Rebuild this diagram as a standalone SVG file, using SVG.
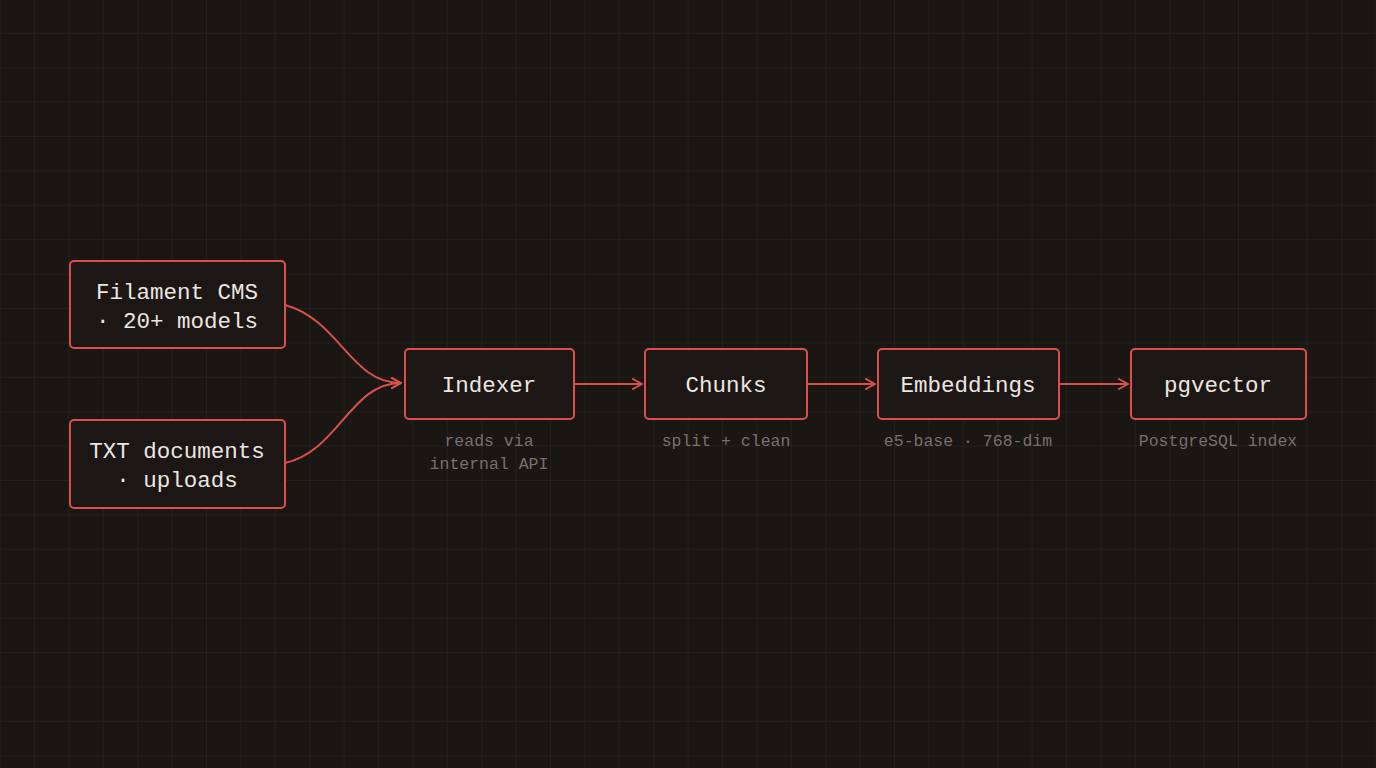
<svg xmlns="http://www.w3.org/2000/svg" width="1376" height="768" viewBox="0 0 1376 768">
<defs>
<pattern id="grid" width="34.4" height="34.4" patternUnits="userSpaceOnUse" x="0.6" y="-0.6">
<path d="M34.4 0V34.4M0 34.4H34.4" fill="none" stroke="#2c2724" stroke-width="1"/>
</pattern>
<marker id="ah" viewBox="0 0 12 12" refX="11" refY="6" markerWidth="12" markerHeight="12" markerUnits="userSpaceOnUse" orient="auto">
<path d="M2 1L11 6L2 11" fill="none" stroke="#d9504a" stroke-width="2" stroke-linecap="round" stroke-linejoin="round"/>
</marker>
<style>
.n{fill:#1c1715;stroke:#d9504a;stroke-width:2}
.t{font-family:"Liberation Mono","DejaVu Sans Mono",monospace;font-size:22.5px;fill:#ece6e0;text-anchor:middle}
.s{font-family:"Liberation Mono","DejaVu Sans Mono",monospace;font-size:16.5px;fill:#77706b;text-anchor:middle}
.c{fill:none;stroke:#d9504a;stroke-width:2;marker-end:url(#ah)}
</style>
</defs>
<rect width="1376" height="768" fill="#1a1614"/>
<rect width="1376" height="768" fill="url(#grid)"/>
<g id="connectors">
<path class="c" d="M285 305C340 320 350 383 401 383"/>
<path class="c" d="M285 463C340 450 350 383 401 383"/>
<path class="c" d="M574 384H642"/>
<path class="c" d="M807 384H875"/>
<path class="c" d="M1059 384H1128"/>
</g>
<g id="filament"><rect class="n" x="70" y="261" width="215" height="87" rx="4"/><text class="t" x="177" y="299">Filament CMS</text><text class="t" x="177" y="328">· 20+ models</text></g>
<g id="txt"><rect class="n" x="70" y="420" width="215" height="88" rx="4"/><text class="t" x="177" y="458">TXT documents</text><text class="t" x="177" y="487">· uploads</text></g>
<g id="indexer"><rect class="n" x="405" y="349" width="169" height="70" rx="4"/><text class="t" x="489" y="392">Indexer</text><text class="s" x="489" y="446">reads via</text><text class="s" x="489" y="469">internal API</text></g>
<g id="chunks"><rect class="n" x="645" y="349" width="162" height="70" rx="4"/><text class="t" x="726" y="392">Chunks</text><text class="s" x="726" y="446">split + clean</text></g>
<g id="embeddings"><rect class="n" x="878" y="349" width="181" height="70" rx="4"/><text class="t" x="968" y="392">Embeddings</text><text class="s" x="968" y="446">e5-base · 768-dim</text></g>
<g id="pgvector"><rect class="n" x="1131" y="349" width="175" height="70" rx="4"/><text class="t" x="1218" y="392">pgvector</text><text class="s" x="1218" y="446">PostgreSQL index</text></g>
</svg>
